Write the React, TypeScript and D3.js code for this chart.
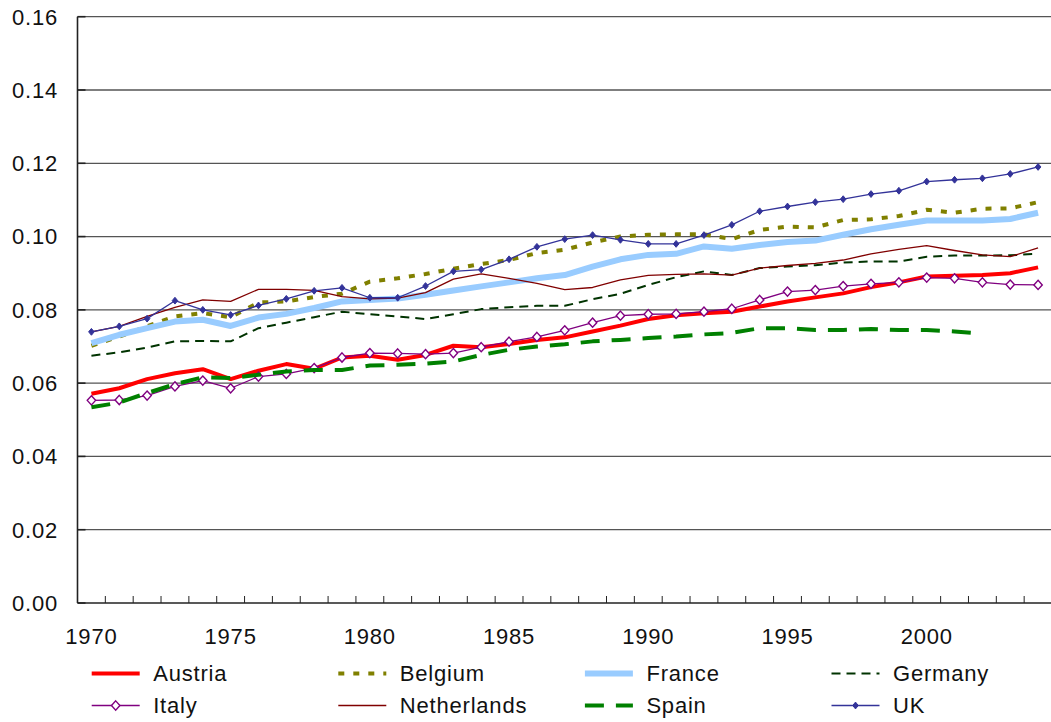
import * as d3 from 'd3';

const years = d3.range(1970, 2005);
const yTicks = [0, 0.02, 0.04, 0.06, 0.08, 0.1, 0.12, 0.14, 0.16];
const yearLabels = [1970, 1975, 1980, 1985, 1990, 1995, 2000];

// values, 1970..2004
const austria = [0.0571, 0.0586, 0.0611, 0.0627, 0.0638, 0.0611, 0.0634, 0.0652, 0.0639, 0.067, 0.0675, 0.0664, 0.0677, 0.0702, 0.0698, 0.0707, 0.0718, 0.0725, 0.0741, 0.0757, 0.0775, 0.0785, 0.0791, 0.0795, 0.0809, 0.0823, 0.0834, 0.0845, 0.0862, 0.0875, 0.0891, 0.0893, 0.0895, 0.09, 0.0916];
const belgium = [0.0702, 0.0727, 0.0755, 0.0782, 0.0791, 0.078, 0.082, 0.0823, 0.0835, 0.0844, 0.0877, 0.0886, 0.0898, 0.0912, 0.0925, 0.0936, 0.0955, 0.0964, 0.0984, 0.1, 0.1005, 0.1006, 0.1006, 0.0993, 0.1018, 0.1027, 0.1025, 0.1045, 0.1047, 0.1056, 0.1073, 0.1065, 0.1076, 0.1077, 0.1094];
const france = [0.0709, 0.0732, 0.075, 0.0768, 0.0773, 0.0756, 0.0779, 0.0789, 0.0805, 0.0823, 0.0827, 0.0831, 0.0841, 0.0853, 0.0864, 0.0875, 0.0886, 0.0895, 0.0918, 0.0938, 0.095, 0.0953, 0.0973, 0.0967, 0.0977, 0.0985, 0.0989, 0.1005, 0.102, 0.1032, 0.1044, 0.1044, 0.1044, 0.1048, 0.1065];
const germany = [0.0675, 0.0684, 0.0697, 0.0714, 0.0715, 0.0714, 0.075, 0.0765, 0.078, 0.0795, 0.0788, 0.0782, 0.0775, 0.0788, 0.0802, 0.0807, 0.0811, 0.0811, 0.0829, 0.0844, 0.0868, 0.0889, 0.0905, 0.0895, 0.0914, 0.0918, 0.0922, 0.0929, 0.0932, 0.0932, 0.0945, 0.0948, 0.0948, 0.0949, 0.0953];
const italy = [0.0553, 0.0554, 0.0566, 0.0591, 0.0607, 0.0586, 0.0618, 0.0625, 0.0641, 0.067, 0.0682, 0.0681, 0.0679, 0.0682, 0.0698, 0.0713, 0.0726, 0.0744, 0.0765, 0.0784, 0.0788, 0.0789, 0.0795, 0.0803, 0.0827, 0.085, 0.0854, 0.0865, 0.0871, 0.0875, 0.0888, 0.0886, 0.0875, 0.0869, 0.0868];
const netherlands = [0.074, 0.0755, 0.0782, 0.0807, 0.0827, 0.0823, 0.0856, 0.0856, 0.0853, 0.0836, 0.083, 0.0832, 0.0847, 0.0884, 0.0898, 0.0886, 0.0872, 0.0855, 0.0861, 0.0882, 0.0894, 0.0897, 0.0898, 0.0895, 0.0914, 0.0921, 0.0927, 0.0936, 0.0953, 0.0965, 0.0975, 0.0962, 0.095, 0.0945, 0.0969];
const spain = [0.0534, 0.0547, 0.0573, 0.0597, 0.0616, 0.0614, 0.0623, 0.0632, 0.0636, 0.0636, 0.0648, 0.065, 0.0653, 0.0659, 0.0677, 0.0691, 0.07, 0.0706, 0.0714, 0.0718, 0.0723, 0.0727, 0.0733, 0.0737, 0.075, 0.075, 0.0745, 0.0745, 0.0748, 0.0745, 0.0745, 0.0741, 0.0735, null, null];
const uk = [0.074, 0.0755, 0.0776, 0.0825, 0.08, 0.0786, 0.0812, 0.083, 0.0852, 0.086, 0.0833, 0.0833, 0.0865, 0.0905, 0.091, 0.0938, 0.0972, 0.0993, 0.1004, 0.0991, 0.098, 0.098, 0.1004, 0.1032, 0.1069, 0.1082, 0.1094, 0.1102, 0.1116, 0.1125, 0.115, 0.1155, 0.1159, 0.1171, 0.119];

type Series = {
  name: string;
  values: (number | null)[];
  color: string;
  width: number;
  dash?: string;
  marker?: 'open' | 'filled';
};

const series: Series[] = [
  { name: 'Austria', values: austria, color: '#ff0000', width: 4 },
  { name: 'Belgium', values: belgium, color: '#808000', width: 4, dash: '6,9' },
  { name: 'France', values: france, color: '#99ccff', width: 6 },
  { name: 'Germany', values: germany, color: '#003300', width: 2, dash: '9,6' },
  { name: 'Italy', values: italy, color: '#800080', width: 1.3, marker: 'open' },
  { name: 'Netherlands', values: netherlands, color: '#800000', width: 1.3 },
  { name: 'Spain', values: spain, color: '#008000', width: 4, dash: '19,12' },
  { name: 'UK', values: uk, color: '#333399', width: 1.3, marker: 'filled' },
];

const W = 1051;
const H = 722;
const left = 77.5;
const right = 1052;
const top = 16.7;
const bottom = 603;
const font = "'Liberation Sans', Arial, Helvetica, sans-serif";

const diamond = (cx: number, cy: number, rx: number, ry: number) =>
  `M${cx},${cy - ry}L${cx + rx},${cy}L${cx},${cy + ry}L${cx - rx},${cy}Z`;

const App = () => {
  const x = d3.scaleBand<number>().domain(years).range([left, right]).padding(0);
  const cx = (yr: number) => (x(yr) as number) + x.bandwidth() / 2;
  const y = d3.scaleLinear().domain([0, 0.16]).range([bottom, top]);

  const line = d3
    .line<number | null>()
    .defined(d => d !== null)
    .x((_, i) => cx(years[i]))
    .y(d => y(d as number));

  const boundaries = d3.range(1, 35).map(i => left + i * x.bandwidth());

  return (
    <svg width={W} height={H} style={{ position: 'absolute', left: 0, top: 0, display: 'block' }} fontFamily={font}>
      <rect width={W} height={H} fill="#fff" />
      {/* grid */}
      {yTicks.map(t => (
        <line key={t} x1={left} x2={right} y1={y(t)} y2={y(t)} stroke={t === 0 ? '#222' : '#555'} strokeWidth={t === 0 ? 1.6 : 1.3} />
      ))}
      <line x1={left} x2={left} y1={top} y2={bottom} stroke="#222" strokeWidth={1.6} />
      {yTicks.map(t => (
        <line key={'yt' + t} x1={left} x2={left + 8} y1={y(t)} y2={y(t)} stroke="#222" strokeWidth={1.6} />
      ))}
      {boundaries.map((b, i) => (
        <line key={'xt' + i} x1={b} x2={b} y1={bottom} y2={bottom - 7} stroke="#222" strokeWidth={1} />
      ))}
      {yTicks.map(t => (
        <text key={'yl' + t} x={58} y={y(t)} dy="0.36em" textAnchor="end" fontSize={22} letterSpacing={0.8} fill="#111">
          {t.toFixed(2)}
        </text>
      ))}
      {yearLabels.map(yr => (
        <text key={'xl' + yr} x={cx(yr)} y={644} textAnchor="middle" fontSize={22} letterSpacing={0.8} fill="#111">
          {yr}
        </text>
      ))}
      {/* series */}
      {series.map(s => (
        <g key={s.name}>
          <path d={line(s.values) || ''} fill="none" stroke={s.color} strokeWidth={s.width} strokeDasharray={s.dash} strokeLinejoin="round" />
          {s.marker &&
            s.values.map((v, i) =>
              v === null ? null : s.marker === 'open' ? (
                <path key={i} d={diamond(cx(years[i]), y(v), 4.2, 4.6)} fill="#fff" stroke={s.color} strokeWidth={1.4} />
              ) : (
                <path key={i} d={diamond(cx(years[i]), y(v), 2.8, 3.4)} fill={s.color} stroke={s.color} strokeWidth={1} />
              )
            )}
        </g>
      ))}
      {/* legend */}
      {series.map((s, i) => {
        const col = i % 4;
        const row = Math.floor(i / 4);
        const lx = 91.7 + col * 246.6;
        const ly = 673.5 + row * 32;
        return (
          <g key={'lg' + s.name}>
            <line x1={lx} x2={lx + 48} y1={ly} y2={ly} stroke={s.color} strokeWidth={s.width} strokeDasharray={s.dash} />
            {s.marker === 'open' && <path d={diamond(lx + 24, ly, 4.2, 4.6)} fill="#fff" stroke={s.color} strokeWidth={1.4} />}
            {s.marker === 'filled' && <path d={diamond(lx + 24, ly, 2.8, 3.4)} fill={s.color} stroke={s.color} />}
            <text x={lx + 61.5} y={ly} dy="0.36em" fontSize={22} letterSpacing={0.8} fill="#111">
              {s.name}
            </text>
          </g>
        );
      })}
    </svg>
  );
};

export default App;
